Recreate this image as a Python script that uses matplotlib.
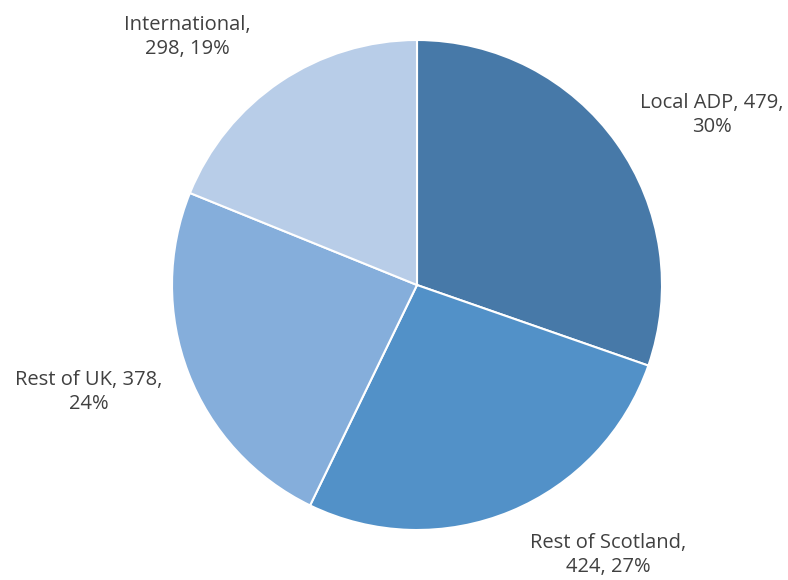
import matplotlib.pyplot as plt

labels = ['Local ADP', 'Rest of Scotland', 'Rest of UK', 'International']
counts = [479, 424, 378, 298]
colors = ['#4779a8', '#5291c8', '#85aedb', '#b8cde8']
# label anchor points (figure pixels, y measured from top)
label_xy = [(712, 115), (608, 555), (89, 392), (187, 37)]
label_fmt = ['{name}, {n},\n{p:.0f}%', '{name},\n{n}, {p:.0f}%',
             '{name}, {n},\n{p:.0f}%', '{name},\n{n}, {p:.0f}%']

W, H = 788, 580
fig = plt.figure(figsize=(W / 100, H / 100), dpi=100)
ax = fig.add_axes([0, 0, 1, 1])

ax.pie(counts, colors=colors, startangle=90, counterclock=False,
       center=(417, H - 285), radius=245, frame=True,
       wedgeprops=dict(edgecolor='white', linewidth=1.5))

# pie() rescales the axes, so set pixel-sized limits afterwards
ax.set_xlim(0, W)
ax.set_ylim(0, H)
ax.set_aspect('equal')
ax.axis('off')

total = sum(counts)
for name, n, fmt, (x, y) in zip(labels, counts, label_fmt, label_xy):
    ax.text(x, H - y, fmt.format(name=name, n=n, p=100 * n / total),
            ha='center', va='center', fontsize=14.5, color='#404040',
            family='Open Sans', linespacing=1.3)

fig.savefig('out.png', dpi=100)
